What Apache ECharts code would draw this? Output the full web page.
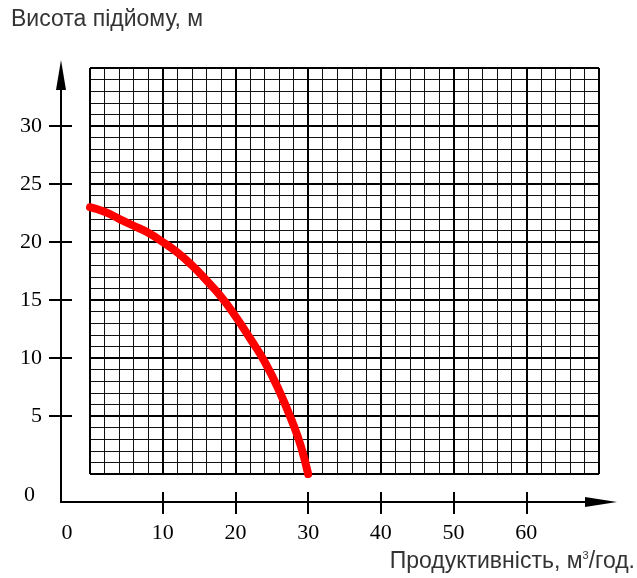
<!DOCTYPE html>
<html>
<head>
<meta charset="utf-8">
<script src="https://cdn.jsdelivr.net/npm/echarts@6/dist/echarts.min.js"></script>
<style>html,body{margin:0;padding:0;background:#fff}#c{width:637px;height:578px}</style>
</head>
<body>
<div id="c"></div>
<script>
// ---- data ----
const flowValues = [0, 2, 4, 6, 8, 10, 12, 14, 16, 18, 20, 22, 24, 26, 28, 29, 30];
const headValues = [23.0, 22.6, 22.0, 21.4, 20.8, 20.0, 19.1, 18.0, 16.7, 15.3, 13.6, 11.7, 9.7, 7.2, 4.2, 2.4, 0];
const xTickLabels = [0, 10, 20, 30, 40, 50, 60];
const yTickLabels = [0, 5, 10, 15, 20, 25, 30];
const xTicks = [10, 20, 30, 40, 50, 60];
const yTicks = [5, 10, 15, 20, 25, 30];
const yTitle = 'Висота підйому, м';
const xTitleA = 'Продуктивність, м';
const xTitleSup = '3';
const xTitleB = '/год.';

// ---- layout ----
const paper = {left: 90, top: 68, width: 509, height: 406, xMax: 70, yMax: 35};
const axesBox = {left: 61, top: 75, right: 601, bottom: 502};
const xu = paper.width / paper.xMax, yu = paper.height / paper.yMax;
const x1min = (axesBox.left - paper.left) / xu;
const x1max = (axesBox.right - paper.left) / xu;
const y1min = -(axesBox.bottom - (paper.top + paper.height)) / yu;
const y1max = (paper.top + paper.height - axesBox.top) / yu;

const serif = 'Liberation Serif';
const numFont = 22;

const chart = echarts.init(document.getElementById('c'), null, {renderer: 'canvas'});
const hidden = {show: false};
const option = {
  backgroundColor: '#fff',
  animation: false,
  title: [
    {text: yTitle, left: 6, top: 3, textStyle: {fontFamily: 'Liberation Sans', fontSize: 23, fontWeight: 'normal', color: '#333'}},
    {text: '{a|' + xTitleA + '}{s|' + xTitleSup + '}{a|' + xTitleB + '}', right: -3, top: 545,
     textStyle: {fontWeight: 'normal', rich: {
       a: {fontFamily: 'Liberation Sans', fontSize: 23, fontWeight: 'normal', color: '#333'},
       s: {fontFamily: 'Liberation Sans', fontSize: 11, fontWeight: 'normal', color: '#333', verticalAlign: 'top', padding: [0, 0, 12, 0]}
     }}}
  ],
  grid: [
    {left: paper.left, top: paper.top, width: paper.width, height: paper.height, containLabel: false},
    {left: axesBox.left, top: axesBox.top, width: axesBox.right - axesBox.left, height: axesBox.bottom - axesBox.top, containLabel: false}
  ],
  xAxis: [
    {gridIndex: 0, type: 'value', min: 0, max: paper.xMax, interval: 10,
     axisLine: hidden, axisTick: hidden, axisLabel: hidden,
     splitLine: {show: true, lineStyle: {color: '#000', width: 2}},
     minorTick: {show: false, splitNumber: 5},
     minorSplitLine: {show: true, lineStyle: {color: '#111', width: 1}}},
    {gridIndex: 1, type: 'value', min: x1min, max: x1max, position: 'bottom',
     axisLine: {show: true, onZero: false, symbol: ['none', 'triangle'], symbolSize: [10, 32], lineStyle: {color: '#000', width: 2}},
     axisTick: {show: true, customValues: xTicks, length: 12, inside: false, lineStyle: {color: '#000', width: 2}},
     axisLabel: {show: true, customValues: xTickLabels, margin: 20, color: '#000', fontFamily: serif, fontSize: numFont,
       formatter: v => v === 0 ? '{z|0}' : String(v),
       rich: {z: {fontFamily: serif, fontSize: numFont, color: '#000', padding: [0, 46, 0, 0]}}},
     splitLine: hidden},
    {gridIndex: 1, type: 'value', min: x1min, max: x1max, position: 'bottom',
     axisLine: {show: false, onZero: false},
     axisTick: {show: true, customValues: xTicks, length: 10, inside: true, lineStyle: {color: '#000', width: 2}},
     axisLabel: hidden, splitLine: hidden}
  ],
  yAxis: [
    {gridIndex: 0, type: 'value', min: 0, max: paper.yMax, interval: 5,
     axisLine: hidden, axisTick: hidden, axisLabel: hidden,
     splitLine: {show: true, lineStyle: {color: '#000', width: 2}},
     minorTick: {show: false, splitNumber: 5},
     minorSplitLine: {show: true, lineStyle: {color: '#111', width: 1}}},
    {gridIndex: 1, type: 'value', min: y1min, max: y1max, position: 'left',
     axisLine: {show: true, onZero: false, symbol: ['none', 'triangle'], symbolSize: [10, 30], lineStyle: {color: '#000', width: 2}},
     axisTick: {show: true, customValues: yTicks, length: 12, inside: false, lineStyle: {color: '#000', width: 2}},
     axisLabel: {show: true, customValues: yTickLabels, margin: 19, color: '#000', fontFamily: serif, fontSize: numFont,
       formatter: v => v === 0 ? '{z|0}' : String(v),
       rich: {z: {fontFamily: serif, fontSize: numFont, color: '#000', padding: [42, 7, 0, 0]}}},
     splitLine: hidden},
    {gridIndex: 1, type: 'value', min: y1min, max: y1max, position: 'left',
     axisLine: {show: false, onZero: false},
     axisTick: {show: true, customValues: yTicks, length: 11, inside: true, lineStyle: {color: '#000', width: 2}},
     axisLabel: hidden, splitLine: hidden}
  ],
  series: [{
    type: 'line', xAxisIndex: 0, yAxisIndex: 0,
    data: flowValues.map((x, i) => [x, headValues[i]]),
    smooth: 0.5, showSymbol: false, symbol: 'none', clip: false,
    lineStyle: {color: '#ff0000', width: 8, cap: 'round', join: 'round'},
    z: 5
  }]
};
chart.setOption(option);
</script>
</body>
</html>
